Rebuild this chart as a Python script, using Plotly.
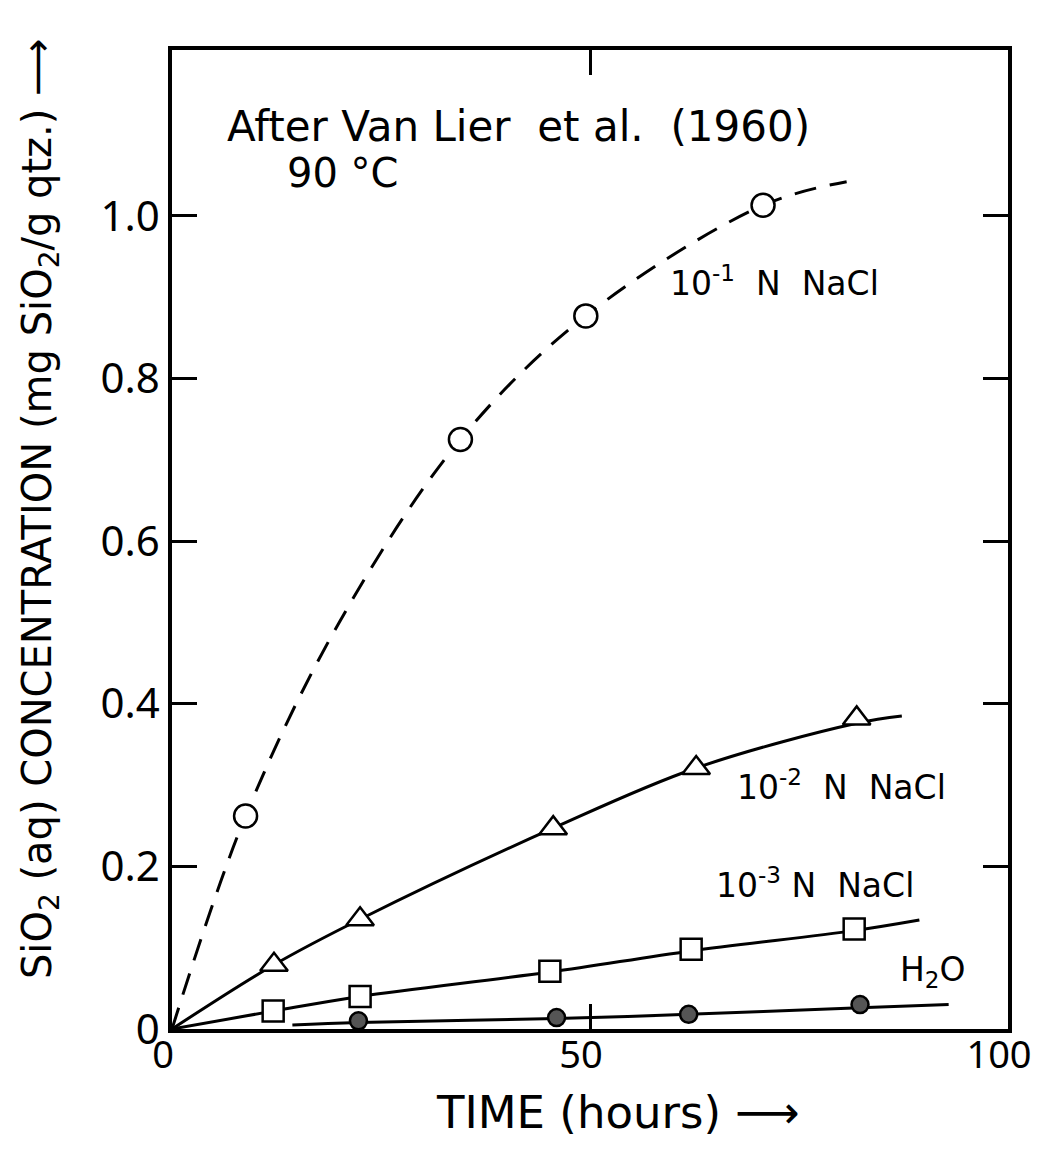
import plotly.graph_objects as go

# ---- data ----
# 10^-1 N NaCl (open circles, dashed curve)
t_n1 = [8.8, 34.5, 49.5, 70.7]
c_n1 = [0.262, 0.725, 0.877, 1.013]
fit_t_n1 = [0, 8.8, 20, 34.5, 49.5, 70.7, 80.7]
fit_c_n1 = [0, 0.262, 0.50, 0.725, 0.877, 1.013, 1.042]

# 10^-2 N NaCl (open triangles)
t_n2 = [12.2, 22.5, 45.6, 62.7, 81.9]
c_n2 = [0.079, 0.135, 0.247, 0.321, 0.382]
fit_t_n2 = [0, 12.2, 22.5, 45.6, 62.7, 81.9, 87.3]
fit_c_n2 = [0, 0.079, 0.135, 0.247, 0.321, 0.376, 0.385]

# 10^-3 N NaCl (open squares)
t_n3 = [12.1, 22.5, 45.2, 62.1, 81.6]
c_n3 = [0.022, 0.040, 0.071, 0.098, 0.123]
fit_t_n3 = [0, 12.1, 22.5, 45.2, 62.1, 81.6, 89.4]
fit_c_n3 = [0, 0.022, 0.040, 0.070, 0.096, 0.121, 0.134]

# H2O (filled circles)
t_h2o = [22.3, 46.0, 61.8, 82.3]
c_h2o = [0.010, 0.014, 0.018, 0.030]
fit_t_h2o = [14.4, 22.3, 46.0, 61.8, 82.3, 92.9]
fit_c_h2o = [0.005, 0.008, 0.013, 0.018, 0.026, 0.030]

x_ticks = [0, 50, 100]
x_ticklabels = ["0", "50", "100"]
y_ticks = [0, 0.2, 0.4, 0.6, 0.8, 1.0]
y_ticklabels = ["0", "0.2", "0.4", "0.6", "0.8", "1.0"]

TICKFONT = "Noto Sans"
TEXTFONT = "DejaVu Sans"

fig = go.Figure()

def curve(x, y, dash="solid"):
    fig.add_trace(go.Scatter(x=x, y=y, mode="lines", line_shape="spline",
                             line=dict(color="black", width=3, dash=dash),
                             hoverinfo="skip", showlegend=False))

def pts(x, y, symbol, size, fill="white"):
    fig.add_trace(go.Scatter(x=x, y=y, mode="markers",
                             marker=dict(symbol=symbol, size=size, color=fill,
                                         line=dict(color="black", width=2.5)),
                             showlegend=False))

curve(fit_t_n1, fit_c_n1, dash="22px,14px")
curve(fit_t_n2, fit_c_n2)
curve(fit_t_n3, fit_c_n3)
curve(fit_t_h2o, fit_c_h2o)

pts(t_n1, c_n1, "circle", 23)
pts(t_n2, c_n2, "triangle-up", 24)
pts(t_n3, c_n3, "square", 21)
pts(t_h2o, c_h2o, "circle", 17, fill="#555555")

annotations = [
    dict(x=6.3, y=1.11, text="After Van Lier  et al.  (1960)", size=42),
    dict(x=13.5, y=1.053, text="90 °C", size=40),
    dict(x=59.3, y=0.919, text="10<sup>-1</sup>  N  NaCl", size=33),
    dict(x=67.3, y=0.30, text="10<sup>-2</sup>  N  NaCl", size=33),
    dict(x=64.8, y=0.179, text="10<sup>-3</sup> N  NaCl", size=33),
    dict(x=86.8, y=0.071, text="H<sub>2</sub>O", size=33),
]
for a in annotations:
    fig.add_annotation(x=a["x"], y=a["y"], text=a["text"], xanchor="left",
                       yanchor="middle", showarrow=False,
                       font=dict(family=TEXTFONT, size=a["size"], color="black"))

# axis titles as annotations
fig.add_annotation(xref="paper", yref="paper", x=-0.158, y=0.532,
                   text="SiO<sub>2</sub> (aq) CONCENTRATION (mg SiO<sub>2</sub>/g qtz.) ⟶",
                   textangle=-90, showarrow=False, xanchor="center", yanchor="middle",
                   font=dict(family=TEXTFONT, size=40, color="black"))
fig.add_annotation(xref="paper", yref="paper", x=0.533, y=-0.085,
                   text="TIME (hours) ⟶", showarrow=False, xanchor="center", yanchor="middle",
                   font=dict(family=TEXTFONT, size=45, color="black"))

axis_common = dict(showgrid=False, zeroline=False, showline=True, linecolor="black",
                   linewidth=3.5, mirror="ticks", ticks="inside", ticklen=25,
                   tickwidth=2.5, tickcolor="black", ticklabeloverflow="allow",
                   automargin=False)

fig.update_xaxes(range=[0, 100], tickvals=x_ticks, ticktext=x_ticklabels,
                 ticklabelstandoff=-10, ticklabelshift=-9,
                 tickfont=dict(family=TICKFONT, size=38, color="black"), **axis_common)
fig.update_yaxes(range=[0, 1.204], tickvals=y_ticks, ticktext=y_ticklabels,
                 tickfont=dict(family=TICKFONT, size=42, color="black"), **axis_common)

fig.update_layout(width=1031, height=1151,
                  margin=dict(l=164, r=31, t=42, b=130),
                  plot_bgcolor="white", paper_bgcolor="white",
                  showlegend=False)

fig.write_html("out.html")
